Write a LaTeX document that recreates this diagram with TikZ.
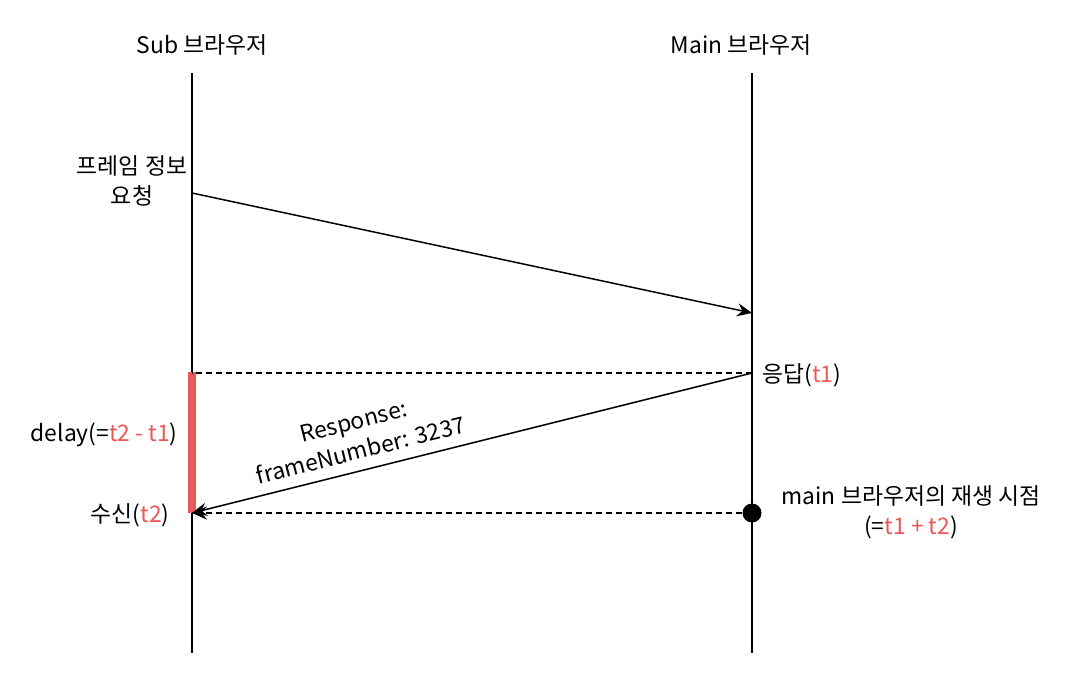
\documentclass[tikz,border=0pt]{standalone}
\usepackage{fontspec}
\setmainfont{Noto Sans CJK KR}
\usepackage{tikz}
\usetikzlibrary{arrows.meta,positioning}
\definecolor{delayred}{RGB}{234,88,88}

\begin{document}
\begin{tikzpicture}[x=0.02cm,y=-0.02cm,
    font=\fontsize{13}{17}\selectfont,
    lifeline/.style={line width=1.1pt},
    msg/.style={line width=0.85pt,-{Stealth[length=8.5pt,width=7.5pt,inset=3pt]}},
    dashline/.style={line width=0.85pt,dash pattern=on 1.2mm off 0.8mm},
    lbl/.style={inner sep=0pt,align=center}]
    \useasboundingbox (0,0) rectangle (1072,676);

    % Lifelines
    \node[lbl] (sub) at (202,45) {Sub 브라우저};
    \node[lbl] (main) at (741,45) {Main 브라우저};
    \coordinate (subtop) at (192,73);
    \coordinate (subbot) at (192,653);
    \coordinate (maintop) at (752,73);
    \coordinate (mainbot) at (752,653);
    \draw[lifeline] (subtop) -- (subbot);
    \draw[lifeline] (maintop) -- (mainbot);

    % Delay bar
    \fill[delayred] (188,372) rectangle (196,513);

    % Request
    \coordinate (reqsend) at (192,193);
    \coordinate (reqrecv) at (752,313);
    \node[lbl] (req) at (132,181) {프레임 정보\\요청};
    \draw[msg] (reqsend) -- (reqrecv);

    % Response
    \coordinate (ressend) at (752,373);
    \coordinate (resrecv) at (192,513);
    \coordinate (resmark) at (192,373);
    \node[lbl,anchor=west] (ans) at (762,375) {응답(\textcolor{delayred}{t1})};
    \draw[dashline] (ressend) -- (resmark);
    \draw[msg] (ressend) -- node[lbl,pos=0.69,sloped,above=6pt] (payload)
        {Response:\\frameNumber: 3237} (resrecv);
    \node[lbl,anchor=east] (recv) at (170,515) {수신(\textcolor{delayred}{t2})};
    \node[lbl,anchor=east] (delay) at (178,435) {delay(=\textcolor{delayred}{t2 - t1})};

    % Playback point
    \node[circle,fill,inner sep=0pt,minimum size=19*0.2mm] (play) at (752,513) {};
    \draw[dashline,-{Stealth[length=8.5pt,width=7.5pt,inset=3pt]}] (play) -- (resrecv);
    \node[lbl] (playtxt) at (911,512)
        {main 브라우저의 재생 시점\\(=\textcolor{delayred}{t1 + t2})};
\end{tikzpicture}
\end{document}
